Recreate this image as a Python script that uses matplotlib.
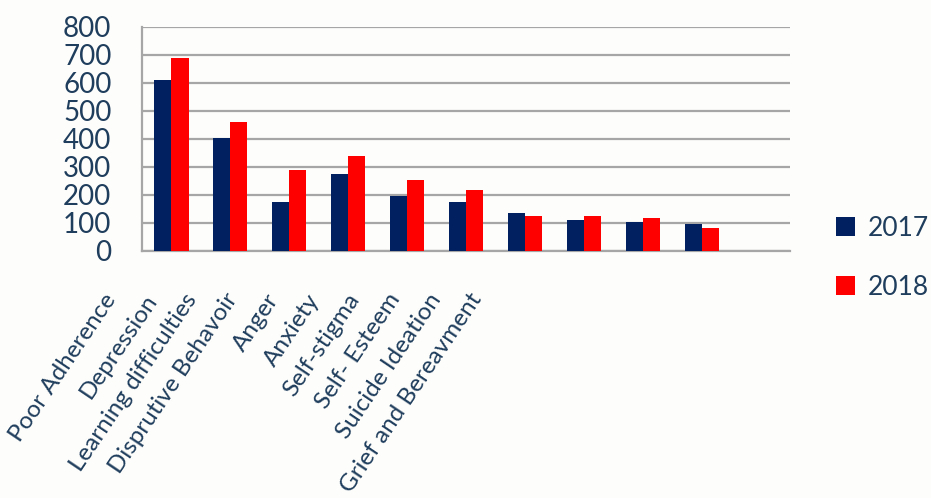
import numpy as np
import matplotlib.pyplot as plt
from matplotlib import transforms

categories = ['Poor Adherence', 'Depression', 'Learning difficulties', 'Disprutive Behavoir',
              'Anger', 'Anxiety', 'Self-stigma', 'Self- Esteem', 'Suicide Ideation',
              'Grief and Bereavment']
y2017 = [610, 402, 174, 274, 195, 174, 137, 110, 102, 95]
y2018 = [688, 460, 288, 338, 252, 217, 124, 124, 117, 81]

text_col = '#1F3D5C'
bg = '#FDFDFB'
plt.rcParams['font.family'] = ['Lato', 'DejaVu Sans']

fig = plt.figure(figsize=(9.31, 4.98), dpi=100, facecolor=bg)
ax = fig.add_axes([0.1525, 0.496, 0.696, 0.45], facecolor=bg)

x = np.arange(len(categories))
w = 0.29
ax.bar(x - w / 2, y2017, w, color='#002060', label='2017', zorder=3)
ax.bar(x + w / 2, y2018, w, color='#FF0000', label='2018', zorder=3)

ax.set_xlim(-0.5, len(categories) + 0.5)
ax.set_ylim(0, 800)
ax.set_yticks(range(0, 801, 100))
ax.yaxis.grid(True, color='#A6A6A6', linewidth=1.6, zorder=0)
ax.tick_params(axis='y', length=0, pad=22, labelsize=20, labelcolor=text_col)
ax.set_xticks([])

# category labels sit tighter than the bars in the original
label_pos = x * 0.689 - 1.163
offset = transforms.ScaledTranslation(0, -28 / 72, fig.dpi_scale_trans)
for pos, name in zip(label_pos, categories):
    ax.text(pos, 0, name, transform=ax.get_xaxis_transform() + offset,
            rotation=56, ha='right', va='top', rotation_mode='anchor',
            fontsize=17.5, color=text_col, clip_on=False)

for side in ['top', 'right']:
    ax.spines[side].set_visible(False)
for side in ['left', 'bottom']:
    ax.spines[side].set_color('#A6A6A6')
    ax.spines[side].set_linewidth(1.6)

leg = ax.legend(loc='center left', bbox_to_anchor=(1.055, -0.03), frameon=False,
                fontsize=19, handlelength=0.7, handleheight=0.7, handletextpad=0.5,
                labelspacing=1.28, borderaxespad=0)
for t in leg.get_texts():
    t.set_color(text_col)

fig.savefig('out.png', dpi=100, facecolor=bg)
